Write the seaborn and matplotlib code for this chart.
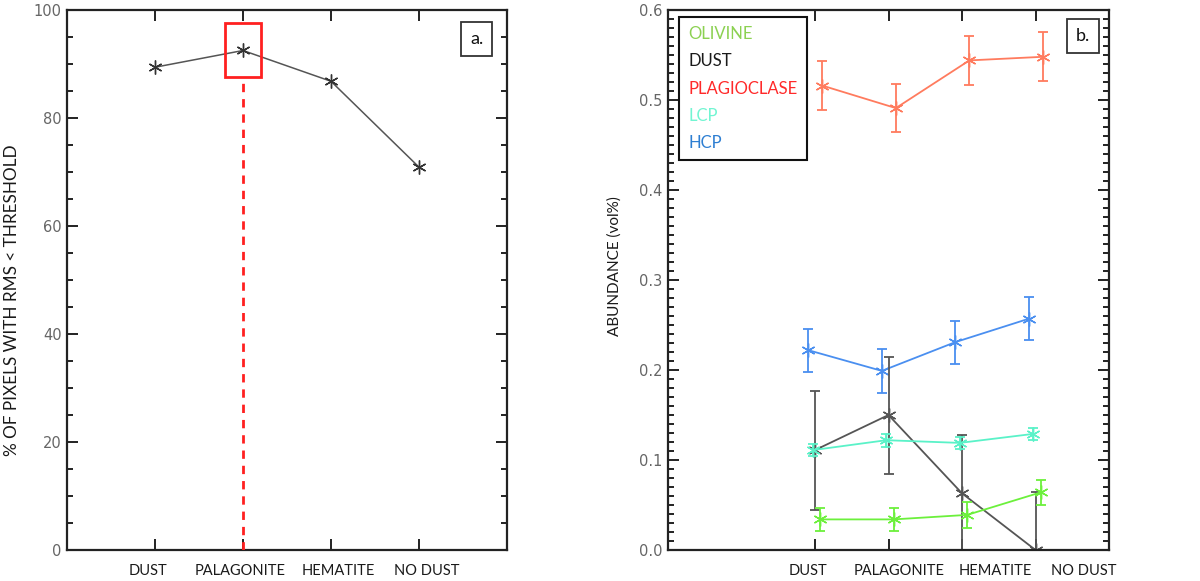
import numpy as np
import pandas as pd
import matplotlib
matplotlib.use("Agg")
import matplotlib.pyplot as plt
import seaborn as sns
from matplotlib.patches import Rectangle
from matplotlib.lines import Line2D
from matplotlib.ticker import MultipleLocator, FixedLocator, FixedFormatter

# ---------------- data ----------------
categories = ["DUST", "PALAGONITE", "HEMATITE", "NO DUST"]

# panel a
pct_pixels = [89.4, 92.5, 86.8, 70.9]
highlight_category = "PALAGONITE"
highlight_low, highlight_high = 87.5, 97.5

# panel b
series_names = ["OLIVINE", "DUST", "PLAGIOCLASE", "LCP", "HCP"]
olivine = [0.034, 0.034, 0.039, 0.064]
olivine_err = [0.013, 0.013, 0.014, 0.014]
dust = [0.111, 0.150, 0.063, 0.0]
dust_err = [0.066, 0.065, 0.065, 0.064]
plagioclase = [0.516, 0.491, 0.544, 0.548]
plagioclase_err = [0.027, 0.027, 0.027, 0.027]
lcp = [0.111, 0.122, 0.119, 0.129]
lcp_err = [0.007, 0.007, 0.007, 0.007]
hcp = [0.222, 0.199, 0.231, 0.257]
hcp_err = [0.024, 0.024, 0.024, 0.024]

values = {"OLIVINE": olivine, "DUST": dust, "PLAGIOCLASE": plagioclase, "LCP": lcp, "HCP": hcp}
errors = {"OLIVINE": olivine_err, "DUST": dust_err, "PLAGIOCLASE": plagioclase_err,
          "LCP": lcp_err, "HCP": hcp_err}

# ---------------- style / layout ----------------
dodge = {"OLIVINE": 0.07, "DUST": 0.0, "PLAGIOCLASE": 0.10, "LCP": -0.03, "HCP": -0.09}
line_colors = {"OLIVINE": "#6CF03C", "DUST": "#555555", "PLAGIOCLASE": "#FF7B5E",
               "LCP": "#5AF2C8", "HCP": "#4A8FF0"}
text_colors = {"OLIVINE": "#8CD152", "DUST": "#1A1A1A", "PLAGIOCLASE": "#FF2A2A",
               "LCP": "#72F5D2", "HCP": "#2E7FD2"}
draw_order = ["PLAGIOCLASE", "HCP", "DUST", "LCP", "OLIVINE"]
label_pos_a = [-0.08, 0.97, 2.08, 3.09]
label_pos_b = [-0.10, 1.14, 2.46, 3.66]
ASTER = (6, 2, 0)

sns.set_theme(style="white")
plt.rcParams["font.family"] = ["DejaVu Sans"]
TXT_FONT = ["Lato", "DejaVu Sans"]

fig = plt.figure(figsize=(12, 5.81), dpi=100)
axA = fig.add_axes([67 / 1200, 31 / 581, 440 / 1200, 540 / 581])
axB = fig.add_axes([668 / 1200, 31 / 581, 441 / 1200, 540 / 581])


def style_axes(ax, label_pos):
    for s in ax.spines.values():
        s.set_color("#222222")
        s.set_linewidth(1.6)
    ax.tick_params(which="both", direction="in", top=True, right=True, bottom=True,
                   left=True, color="#222222", width=1.4)
    ax.tick_params(which="major", length=8)
    ax.yaxis.set_tick_params(which="minor", length=4)
    ax.tick_params(axis="y", which="major", labelsize=10.5, labelcolor="#666666", pad=4)
    ax.set_xticks(range(len(categories)))
    ax.set_xticklabels([])
    ax.xaxis.set_minor_locator(FixedLocator(label_pos))
    ax.xaxis.set_minor_formatter(FixedFormatter(categories))
    ax.xaxis.set_tick_params(which="minor", length=0, pad=10, labelsize=10.5,
                             labelcolor="#1A1A1A")
    for t in ax.xaxis.get_minorticklabels():
        t.set_family(TXT_FONT)


# ---------------- panel a ----------------
xa = np.arange(len(categories))
dfA = pd.DataFrame({"x": xa, "pct": pct_pixels, "category": categories})
sns.lineplot(data=dfA, x="x", y="pct", ax=axA, color="#555555", lw=1.1,
             marker=ASTER, markersize=10, markeredgecolor="#333333",
             markeredgewidth=1.0)
hx = categories.index(highlight_category)
axA.add_patch(Rectangle((hx - 0.2, highlight_low), 0.4, highlight_high - highlight_low,
                        fill=False, edgecolor="#FF2020", lw=2.0, zorder=4))
axA.plot([hx, hx], [0, highlight_low], color="#FF2020", lw=2.0, ls=(0, (3, 2.5)), zorder=3)
axA.set_xlim(-1, 4)
axA.set_ylim(0, 100)
axA.yaxis.set_major_locator(MultipleLocator(20))
axA.yaxis.set_minor_locator(MultipleLocator(5))
style_axes(axA, label_pos_a)
axA.set_xlabel("")
axA.set_ylabel("% OF PIXELS WITH RMS < THRESHOLD", fontsize=12.3, color="#1A1A1A",
               family=TXT_FONT)
axA.yaxis.set_label_coords(-0.107, 0.463)
axA.text(0.931, 0.946, "a.", transform=axA.transAxes, ha="center", va="center",
         fontsize=13, family=TXT_FONT, color="#111111",
         bbox=dict(boxstyle="square,pad=0.5", fc="white", ec="#333333", lw=1.3))

# ---------------- panel b ----------------
rows = []
for name in series_names:
    for i, cat in enumerate(categories):
        rows.append({"series": name, "category": cat, "xpos": i + dodge[name],
                     "value": values[name][i], "err": errors[name][i]})
dfB = pd.DataFrame(rows)

for name in draw_order:
    sub = dfB[dfB["series"] == name]
    c = line_colors[name]
    sns.lineplot(data=sub, x="xpos", y="value", ax=axB, color=c, lw=1.3,
                 marker=ASTER, markersize=10, markeredgecolor=c,
                 markeredgewidth=1.0, legend=False)
    axB.errorbar(sub["xpos"], sub["value"], yerr=sub["err"], fmt="none", ecolor=c,
                 elinewidth=1.3, capsize=3.6, capthick=1.3)

axB.set_xlim(-2, 4)
axB.set_ylim(0, 0.6)
axB.yaxis.set_major_locator(MultipleLocator(0.1))
axB.yaxis.set_minor_locator(MultipleLocator(0.01))
axB.yaxis.set_major_formatter(matplotlib.ticker.FormatStrFormatter("%.1f"))
style_axes(axB, label_pos_b)
axB.set_xlabel("")
axB.set_ylabel("ABUNDANCE (vol%)", fontsize=11, color="#1A1A1A", family=TXT_FONT)
axB.yaxis.set_label_coords(-0.105, 0.526)
axB.text(0.941, 0.951, "b.", transform=axB.transAxes, ha="center", va="center",
         fontsize=13, family=TXT_FONT, color="#111111",
         bbox=dict(boxstyle="square,pad=0.5", fc="white", ec="#333333", lw=1.3))

handles = [Line2D([], [], lw=0, marker=None) for _ in series_names]
leg = axB.legend(handles, series_names, loc="upper left", bbox_to_anchor=(0.025, 0.987),
                 borderaxespad=0, handlelength=0, handletextpad=0, labelspacing=0.67,
                 borderpad=0.55, fancybox=False, frameon=True,
                 labelcolor=[text_colors[n] for n in series_names],
                 prop={"family": TXT_FONT, "size": 12})
leg.get_frame().set_edgecolor("#111111")
leg.get_frame().set_linewidth(1.5)
leg.get_frame().set_alpha(1)

fig.savefig("out.png", dpi=100)
